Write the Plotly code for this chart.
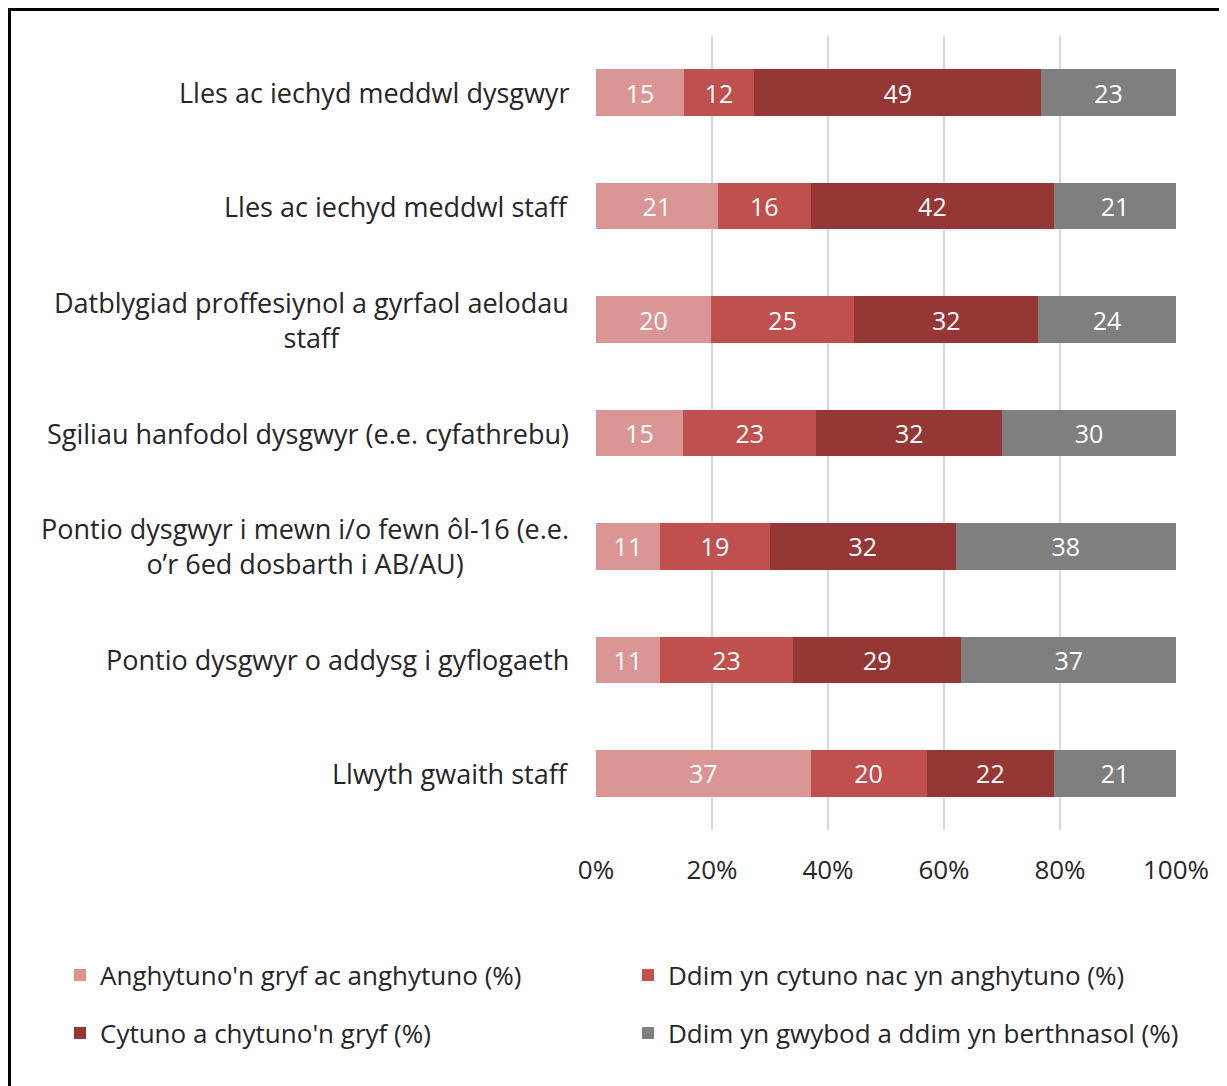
import plotly.graph_objects as go

# categorïau (o'r brig i'r gwaelod)
categories = [
    "Lles ac iechyd meddwl dysgwyr",
    "Lles ac iechyd meddwl staff",
    "Datblygiad proffesiynol a gyrfaol aelodau<br>staff",
    "Sgiliau hanfodol dysgwyr (e.e. cyfathrebu)",
    "Pontio dysgwyr i mewn i/o fewn ôl-16 (e.e.<br>o’r 6ed dosbarth i AB/AU)",
    "Pontio dysgwyr o addysg i gyflogaeth",
    "Llwyth gwaith staff",
]

series_names = [
    "Anghytuno'n gryf ac anghytuno (%)",
    "Ddim yn cytuno nac yn anghytuno (%)",
    "Cytuno a chytuno'n gryf (%)",
    "Ddim yn gwybod a ddim yn berthnasol (%)",
]

anghytuno = [15, 21, 20, 15, 11, 11, 37]
ddim_cytuno = [12, 16, 25, 23, 19, 23, 20]
cytuno = [49, 42, 32, 32, 32, 29, 22]
ddim_gwybod = [23, 21, 24, 30, 38, 37, 21]

x_ticks = [0, 20, 40, 60, 80, 100]
x_ticktext = ["0%", "20%", "40%", "60%", "80%", "100%"]

colors = ["#D99694", "#C0504D", "#953735", "#7F7F7F"]
FONT = "Open Sans"
FS_CAT = 27   # labeli'r categorïau
FS = 26       # allwedd, echelin
FS_BAR = 25   # rhifau ar y barrau

# mae'r dudalen yn symud y ffigur 8px i lawr ac i'r dde
W, H = 1227, 1086
L, R, T, B = 588, 59, 28, 264
pw, ph = W - L - R, H - T - B

# safle pob eitem yn yr allwedd (picseli: chwith, canol fertigol)
legend_pos = [(52, 967), (620, 967), (52, 1025), (620, 1025)]
legend_ids = ["legend2", "legend3", "legend4", "legend5"]

fig = go.Figure()
for i, (name, vals) in enumerate(zip(series_names, [anghytuno, ddim_cytuno, cytuno, ddim_gwybod])):
    fig.add_trace(go.Bar(
        y=categories, x=vals, name=name, orientation="h",
        marker=dict(color=colors[i], line=dict(width=0)),
        text=vals, texttemplate="%{text}", textposition="inside",
        insidetextanchor="middle", textangle=0,
        textfont=dict(color="white", size=FS_BAR, family=FONT),
        legend=legend_ids[i],
        hoverinfo="name+x",
    ))

# labeli'r categorïau, wedi'u canoli fel yn Excel
for c in categories:
    fig.add_annotation(
        x=0, xref="paper", y=c, yref="y", text=c, showarrow=False,
        xanchor="right", xshift=-25, align="center",
        font=dict(size=FS_CAT, color="#262626", family=FONT),
    )

# ffrâm o amgylch y siart
fig.add_shape(
    type="rect", xref="paper", yref="paper",
    x0=(1.5 - L) / pw, x1=(1216 - L) / pw,
    y0=-(1084 - (H - B)) / ph, y1=((H - B) - 1.5) / ph,
    line=dict(color="black", width=3), fillcolor="rgba(0,0,0,0)", layer="above",
)

legends = {}
for lid, (px, py) in zip(legend_ids, legend_pos):
    legends[lid] = dict(
        orientation="h", xanchor="left", yanchor="middle",
        x=(px - L) / pw, y=-((py - (H - B)) / ph),
        font=dict(size=FS, color="#262626", family=FONT),
        bgcolor="rgba(0,0,0,0)", itemclick=False, traceorder="normal",
    )

fig.update_layout(
    width=W, height=H,
    margin=dict(l=L, r=R, t=T, b=B, autoexpand=False),
    barmode="stack", barnorm="percent", bargap=0.59,
    plot_bgcolor="white", paper_bgcolor="white",
    font=dict(family=FONT),
    showlegend=True,
    xaxis=dict(
        range=[0, 100], tickvals=x_ticks, ticktext=x_ticktext,
        showgrid=True, gridcolor="#D9D9D9", gridwidth=1.5,
        zeroline=False, showline=False, ticks="",
        tickfont=dict(size=FS, color="#262626", family=FONT),
        ticklabelstandoff=22,
    ),
    yaxis=dict(
        autorange="reversed", showticklabels=False, showgrid=False,
        zeroline=False, showline=False, ticks="",
    ),
    **legends,
)

fig.write_html("out.html")
